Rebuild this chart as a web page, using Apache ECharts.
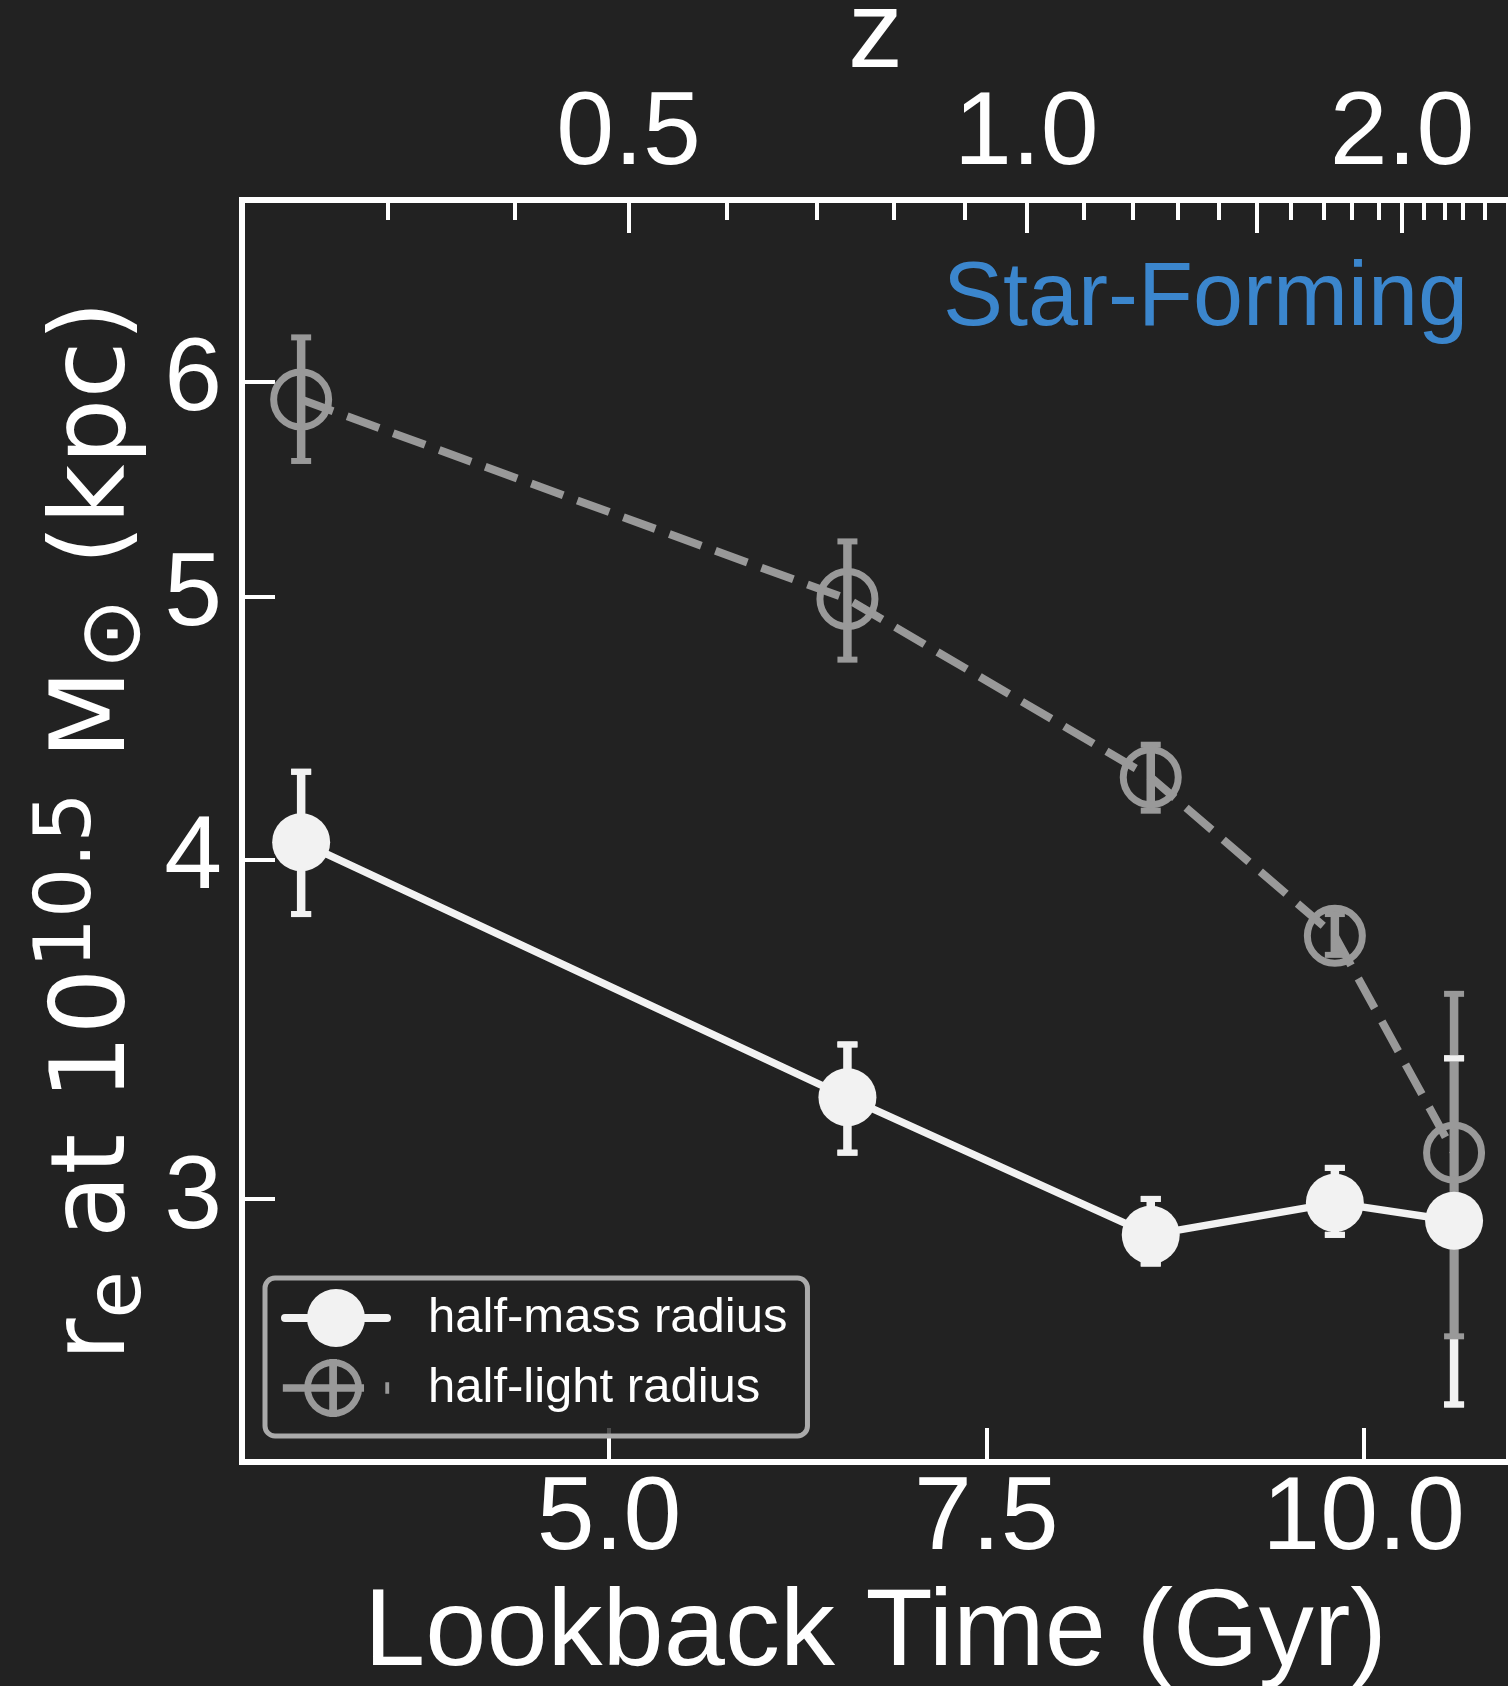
<!DOCTYPE html>
<html>
<head>
<meta charset="utf-8">
<script src="https://cdn.jsdelivr.net/npm/echarts@6/dist/echarts.min.js"></script>
<style>
  html, body { margin: 0; padding: 0; background: #222222; }
  #chart { width: 1508px; height: 1686px; }
</style>
</head>
<body>
<div id="chart"></div>
<script>
// Lookback time (Gyr) of each redshift bin
const lookback = [2.96, 6.58, 8.59, 9.81, 10.60];

// Half-mass radius (kpc) with lower / upper error bounds
const halfMass   = [4.06, 3.27, 2.91, 2.99, 2.945];
const halfMassLo = [3.82, 3.12, 2.84, 2.91, 2.52];
const halfMassHi = [4.31, 3.42, 3.00, 3.08, 3.38];

// Half-light radius (kpc) with lower / upper error bounds
const halfLight   = [5.91, 4.99, 4.29, 3.75, 3.12];
const halfLightLo = [5.61, 4.74, 4.17, 3.69, 2.67];
const halfLightHi = [6.23, 5.24, 4.41, 3.82, 3.57];

// Axis ticks
const yTicks = [3, 4, 5, 6];
const xTicks = [5.0, 7.5, 10.0];

// Redshift ticks on the top axis and the lookback time each one sits at
const zMajor          = [0.5, 1.0, 1.5, 2.0];
const zMajorLookback  = [5.13, 7.765, 9.293, 10.255];
const zMinor          = [0.3, 0.4, 0.6, 0.7, 0.8, 0.9, 1.1, 1.2, 1.3, 1.4, 1.6, 1.7, 1.8, 1.9, 2.1, 2.2, 2.3, 2.4];
const zMinorLookback  = [3.536, 4.378, 5.783, 6.377, 6.890, 7.360, 8.143, 8.473, 8.769, 9.040, 9.520, 9.736, 9.925, 10.098, 10.401, 10.535, 10.660, 10.806];
const zLabels         = ['0.5', '1.0', '2.0'];
const zLabelLookback  = [5.13, 7.765, 10.255];

const X_MIN = 2.568, X_MAX = 10.964;
const Y_MIN = 2.4, Y_MAX = 7.0;

const WHITE = '#f2f2f2';
const GREY = '#999999';
const FONT = 'Liberation Sans, Arial, sans-serif';

function errorData(lo, hi) {
  return lookback.map((t, i) => [t, lo[i], hi[i]]);
}

function errorBars(color, drawBar, drawCaps) {
  return function (params, api) {
    const x = api.value(0);
    const top = api.coord([x, api.value(2)]);
    const bot = api.coord([x, api.value(1)]);
    const cw = 10;
    const children = [];
    if (drawBar) {
      children.push({ type: 'line', shape: { x1: top[0], y1: top[1], x2: bot[0], y2: bot[1] },
        style: { stroke: color, lineWidth: 8.5 } });
    }
    if (drawCaps) {
      children.push({ type: 'line', shape: { x1: top[0] - cw, y1: top[1], x2: top[0] + cw, y2: top[1] },
        style: { stroke: color, lineWidth: 6 } });
      children.push({ type: 'line', shape: { x1: bot[0] - cw, y1: bot[1], x2: bot[0] + cw, y2: bot[1] },
        style: { stroke: color, lineWidth: 6 } });
    }
    return { type: 'group', children };
  };
}

const iconMass = 'path://M4,25 L106,25 A4,4 0 0 1 106,33 L4,33 A4,4 0 0 1 4,25 Z ' +
                 'M55,0 A29,29 0 1 1 55,58 A29,29 0 1 1 55,0 Z';
const iconLight = 'path://M52,0 A30,30 0 1 1 52,60 A30,30 0 1 1 52,0 Z ' +
                  'M52,7 A23,23 0 1 0 52,53 A23,23 0 1 0 52,7 Z ' +
                  'M48,0 L56,0 L56,60 L48,60 Z ' +
                  'M0,26 L84,26 L84,34 L0,34 Z ' +
                  'M106,24 L110,24 L110,36 L106,36 Z';

const chart = echarts.init(document.getElementById('chart'), null, { renderer: 'canvas' });

const option = {
  backgroundColor: '#222222',
  animation: false,
  grid: {
    left: 242, top: 200, width: 1267, height: 1262,
    containLabel: false, outerBoundsMode: 'none',
    show: true, borderColor: '#ffffff', borderWidth: 6, backgroundColor: 'transparent'
  },
  legend: {
    left: 265, top: 1278, orient: 'vertical',
    itemWidth: 110, itemHeight: 58, itemGap: 12,
    padding: [11, 20, 19, 16],
    backgroundColor: 'rgba(34,34,34,0.8)',
    borderColor: '#aaaaaa', borderWidth: 5, borderRadius: 10,
    selectedMode: false,
    textStyle: { color: '#ffffff', fontSize: 49, fontFamily: FONT, padding: [0, 0, 0, 32] },
    data: [
      { name: 'half-mass radius', icon: iconMass, itemStyle: { color: WHITE, borderWidth: 0 } },
      { name: 'half-light radius', icon: iconLight, itemStyle: { color: GREY, borderWidth: 0 } }
    ],
    z: 10
  },
  xAxis: [
    {
      type: 'value', position: 'bottom', min: X_MIN, max: X_MAX,
      name: 'Lookback Time (Gyr)', nameLocation: 'middle', nameGap: 118,
      nameTextStyle: { color: '#ffffff', fontSize: 110, fontFamily: FONT, lineHeight: 110 },
      axisLine: { show: false },
      splitLine: { show: false },
      axisTick: { show: true, inside: true, length: 34, customValues: xTicks,
        lineStyle: { color: '#ffffff', width: 4 } },
      axisLabel: { show: true, customValues: xTicks, margin: 6, color: '#ffffff',
        fontSize: 104, fontFamily: FONT, lineHeight: 104,
        formatter: v => Number(v).toFixed(1) }
    },
    {
      type: 'value', position: 'top', min: X_MIN, max: X_MAX,
      name: 'z', nameLocation: 'middle', nameGap: 108, nameMoveOverlap: false,
      nameTextStyle: { color: '#ffffff', fontSize: 110, fontFamily: FONT, lineHeight: 110 },
      axisLine: { show: false },
      splitLine: { show: false },
      axisTick: { show: true, inside: true, length: 33, customValues: zMajorLookback,
        lineStyle: { color: '#ffffff', width: 4 } },
      axisLabel: { show: true, customValues: zLabelLookback, margin: 13, color: '#ffffff',
        fontSize: 104, fontFamily: FONT, lineHeight: 104,
        formatter: v => {
          let best = 0;
          zLabelLookback.forEach((t, i) => { if (Math.abs(t - v) < Math.abs(zLabelLookback[best] - v)) best = i; });
          return zLabels[best];
        } }
    },
    {
      type: 'value', position: 'top', min: X_MIN, max: X_MAX,
      axisLine: { show: false },
      splitLine: { show: false },
      axisTick: { show: true, inside: true, length: 20, customValues: zMinorLookback,
        lineStyle: { color: '#ffffff', width: 4 } },
      axisLabel: { show: false }
    }
  ],
  yAxis: {
    type: 'log', logBase: 10, min: Y_MIN, max: Y_MAX,
    name: '{b|r}{s|e}{b| at 10}{p|10.5}{b| M}{o|⊙}{b| (kpc)}',
    nameLocation: 'middle', nameRotate: 90, nameGap: 93, nameMoveOverlap: false,
    nameTextStyle: {
      color: '#ffffff', fontSize: 104, fontFamily: 'DejaVu Sans',
      rich: {
        b: { color: '#ffffff', fontSize: 104, fontFamily: 'DejaVu Sans', lineHeight: 104, verticalAlign: 'middle' },
        s: { color: '#ffffff', fontSize: 77, fontFamily: 'DejaVu Sans', lineHeight: 77, padding: [46, 0, 0, 0], verticalAlign: 'middle' },
        o: { color: '#ffffff', fontSize: 85, fontFamily: 'DejaVu Sans', lineHeight: 85, padding: [40, 0, 0, 0], verticalAlign: 'middle' },
        p: { color: '#ffffff', fontSize: 79, fontFamily: 'DejaVu Sans', lineHeight: 79, padding: [0, 0, 56, 0], verticalAlign: 'middle' }
      }
    },
    axisLine: { show: false },
    splitLine: { show: false },
    minorTick: { show: false },
    axisTick: { show: true, inside: true, length: 33, customValues: yTicks,
      lineStyle: { color: '#ffffff', width: 4 } },
    axisLabel: { show: true, customValues: yTicks, margin: 20, color: '#ffffff',
      fontSize: 104, fontFamily: FONT, lineHeight: 104,
      formatter: v => String(Math.round(v)) }
  },
  graphic: [
    {
      type: 'text', right: 40, top: 255, z: 5,
      style: { text: 'Star-Forming', fill: '#3b86cd', fontSize: 90, fontFamily: FONT }
    }
  ],
  series: [
    {
      name: 'half-mass bars', type: 'custom', z: 1,
      renderItem: errorBars(WHITE, true, true),
      data: errorData(halfMassLo, halfMassHi),
      encode: { x: 0, y: [1, 2] }, silent: true
    },
    {
      name: 'half-light bars', type: 'custom', z: 2,
      renderItem: errorBars(GREY, true, true),
      data: errorData(halfLightLo, halfLightHi),
      encode: { x: 0, y: [1, 2] }, silent: true
    },
    {
      name: 'half-mass caps', type: 'custom', z: 3,
      renderItem: errorBars(WHITE, false, true),
      data: errorData(halfMassLo, halfMassHi),
      encode: { x: 0, y: [1, 2] }, silent: true
    },
    {
      name: 'half-light radius', type: 'line', z: 4,
      data: lookback.map((t, i) => [t, halfLight[i]]),
      symbol: 'circle', symbolSize: 55,
      itemStyle: { color: 'rgba(0,0,0,0)', borderColor: GREY, borderWidth: 7 },
      lineStyle: { color: GREY, width: 8, type: [34, 15] },
      emphasis: { disabled: true }
    },
    {
      name: 'half-mass radius', type: 'line', z: 5,
      data: lookback.map((t, i) => [t, halfMass[i]]),
      symbol: 'circle', symbolSize: 58,
      itemStyle: { color: WHITE, borderWidth: 0 },
      lineStyle: { color: WHITE, width: 7.5 },
      emphasis: { disabled: true }
    }
  ]
};

chart.setOption(option);
</script>
</body>
</html>
